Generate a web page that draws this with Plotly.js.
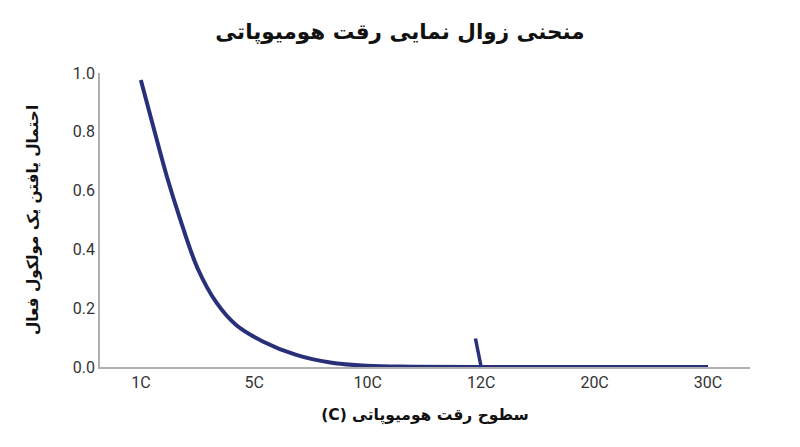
<!DOCTYPE html>
<html>
<head>
<meta charset="utf-8">
<script src="https://cdn.plot.ly/plotly-3.0.1.min.js"></script>
<style>
  body { margin: 0; background: #fff; }
  #chart { width: 800px; height: 447px; }
</style>
</head>
<body>
<div id="chart"></div>
<script>
// dilution levels shown on the x axis (one tick step each)
let dilution_levels = ["1C", "5C", "10C", "12C", "20C", "30C"];
let dilution_steps = [0, 1, 2, 3, 4, 5];

// curve: position along the dilution scale (in tick steps)
// and probability of finding one active molecule
let curve_step = [0, 0.11, 0.23, 0.34, 0.50, 0.67, 0.84, 1.08, 1.37, 1.67, 1.99, 2.4, 3, 4, 5];
let curve_probability = [0.976, 0.817, 0.647, 0.511, 0.336, 0.217, 0.143, 0.086, 0.041, 0.015, 0.004, 0.001, 0, 0, 0];

// the short stroke marking the 12C limit
let limit_step = 3;
let limit_value = 0;

let y_tick_values = [0, 0.2, 0.4, 0.6, 0.8, 1.0];
let y_tick_labels = ["0.0", "0.2", "0.4", "0.6", "0.8", "1.0"];

let line_color = "#28307a";
let persian_font = "DejaVu Sans, sans-serif";

var data = [
    {
        type: "scatter",
        mode: "lines",
        x: curve_step,
        y: curve_probability,
        line: {
            color: line_color,
            width: 4,
            shape: "spline",
            smoothing: 1
        },
        hoverinfo: "y",
        showlegend: false
    }
];

var layout = {
    width: 800,
    height: 447,
    margin: {l: 100, r: 50, t: 73, b: 80},
    paper_bgcolor: "#ffffff",
    plot_bgcolor: "#ffffff",
    title: {
        text: "<b>منحنی زوال نمایی رقت هومیوپاتی</b>",
        font: {family: persian_font, size: 21.5, color: "#111111"},
        x: 0.5,
        xanchor: "center",
        y: 0.93,
        yanchor: "middle"
    },
    xaxis: {
        range: [-0.36, 5.37],
        tickvals: dilution_steps,
        ticktext: dilution_levels,
        showgrid: false,
        zeroline: false,
        showline: true,
        linecolor: "#b0b0b0",
        linewidth: 1.5,
        ticks: "",
        tickfont: {family: "Roboto, sans-serif", size: 16, color: "#333333"},
        title: {
            text: "<b>\u202Bسطوح رقت هومیوپاتی (C)\u202C</b>",
            font: {family: persian_font, size: 15.5, color: "#111111"},
            standoff: 18
        }
    },
    yaxis: {
        range: [0, 1.0],
        showgrid: false,
        zeroline: false,
        showline: true,
        linecolor: "#b0b0b0",
        linewidth: 1.5,
        ticks: "",
        tickvals: y_tick_values,
        ticktext: y_tick_labels,
        tickfont: {family: "Roboto, sans-serif", size: 16, color: "#333333"},
        title: {
            text: "<b>احتمال یافتن یک مولکول فعال</b>",
            font: {family: persian_font, size: 15.3, color: "#111111"},
            standoff: 30
        }
    },
    annotations: [
        {
            x: limit_step,
            y: limit_value,
            xref: "x",
            yref: "y",
            text: "",
            showarrow: true,
            arrowhead: 0,
            arrowwidth: 3.5,
            arrowcolor: line_color,
            ax: -6,
            ay: -30
        }
    ]
};

Plotly.newPlot("chart", data, layout, {displayModeBar: false});
</script>
</body>
</html>
